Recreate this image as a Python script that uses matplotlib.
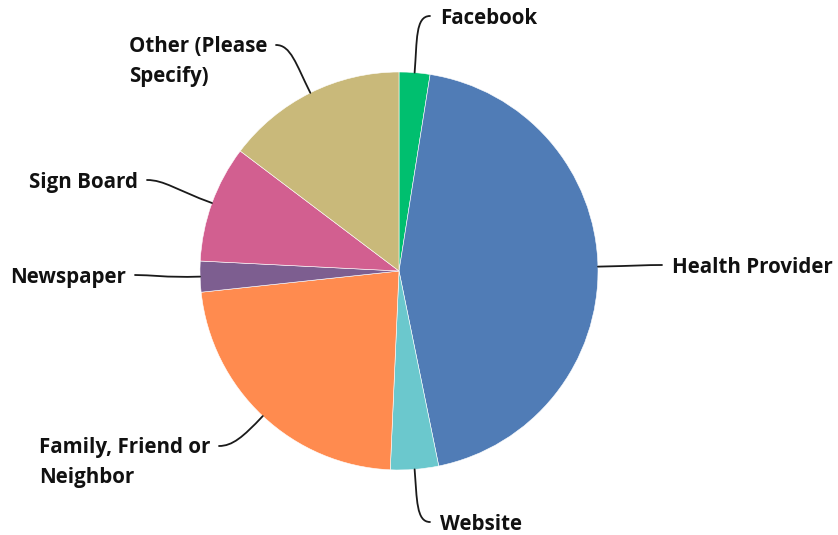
import matplotlib.pyplot as plt
import numpy as np
from matplotlib.path import Path
from matplotlib.patches import PathPatch

# answer shares (percent), clockwise from 12 o'clock
labels = ["Facebook", "Health Provider", "Website", "Family, Friend or\nNeighbor",
          "Newspaper", "Sign Board", "Other (Please\nSpecify)"]
values = [2.5, 44.3, 3.9, 22.6, 2.5, 9.5, 14.7]
colors = ["#00BF6F", "#507CB6", "#6BC8CD", "#FF8B4F", "#7D5E90", "#D25F90", "#C9B97A"]

# where each leader line ends (pixels, y measured from the top) and which side the label hangs off
label_pos = [(440, 16), (672, 265), (440, 522), (210, 446),
             (126, 275), (138, 180), (267, 45)]
label_ha = ["left", "left", "left", "right", "right", "right", "right"]
# two-line labels sit a bit lower so their first line lines up with the leader
text_dy = [0, 0, 0, 9, 0, 0, 9]

W, H = 838, 535
cx, cy, r = 399, H - 271, 199

fig = plt.figure(figsize=(W / 100, H / 100), dpi=100)
ax = fig.add_axes([0, 0, 1, 1])

wedges, _ = ax.pie(values, colors=colors, startangle=90, counterclock=False,
                   center=(cx, cy), radius=r, normalize=True,
                   wedgeprops=dict(edgecolor="white", linewidth=0.4))
ax.set_xlim(0, W)
ax.set_ylim(0, H)
ax.set_aspect("equal")
ax.axis("off")

for w, lab, (lx, ly), ha, dy in zip(wedges, labels, label_pos, label_ha, text_dy):
    mid = np.deg2rad((w.theta1 + w.theta2) / 2)
    u = np.array([np.cos(mid), np.sin(mid)])
    p0 = np.array([cx, cy]) + r * u
    ly = H - ly
    gap = 10 if ha == "left" else -9
    p3 = np.array([lx - gap, ly])
    d = np.linalg.norm(p3 - p0)
    p1 = p0 + u * d * 0.55
    p2 = p3 - np.array([np.sign(gap), 0]) * d * 0.25
    path = Path([p0, p1, p2, p3], [Path.MOVETO, Path.CURVE4, Path.CURVE4, Path.CURVE4])
    ax.add_patch(PathPatch(path, fill=False, lw=1.3, color="#1a1a1a", capstyle="round"))
    ax.text(lx, ly - dy, lab, ha=ha, va="center_baseline", multialignment="left",
            fontsize=14.8, fontweight="bold", family="Open Sans", color="#111111",
            linespacing=1.6)

fig.savefig("out.png", dpi=100)
